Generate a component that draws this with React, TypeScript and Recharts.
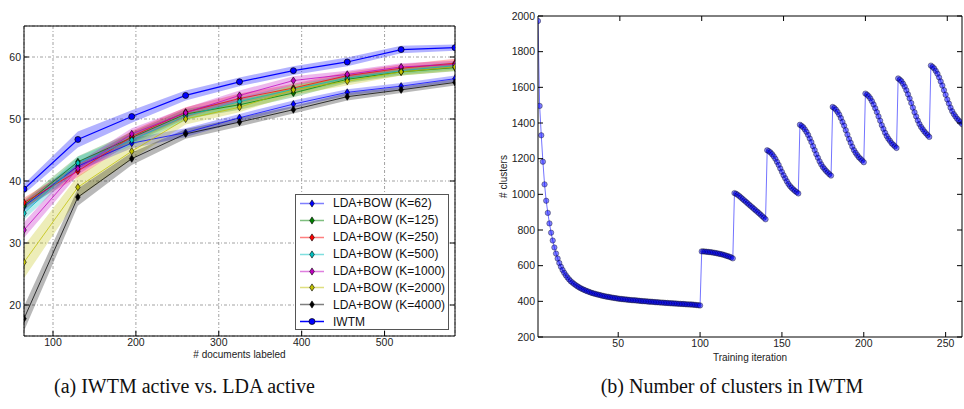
import React from 'react';
import { ComposedChart, LineChart, Line, Area, XAxis, YAxis, CartesianGrid, Legend } from 'recharts';

// ---------- (a) IWTM active vs. LDA active ----------
const docsLabeled = [65, 130, 195, 260, 325, 390, 455, 520, 585];
const iwtmAcc = [38.7, 46.7, 50.4, 53.8, 56.0, 57.8, 59.2, 61.2, 61.5];
const iwtmErr = [0.8, 1.3, 1.0, 0.8, 0.7, 0.7, 0.7, 0.6, 0.5];
const ldaK62 = [35.9, 42.4, 46.1, 47.8, 50.2, 52.4, 54.3, 55.3, 56.5];
const ldaK62Err = [0.8, 0.8, 0.8, 0.7, 0.6, 0.6, 0.5, 0.5, 0.5];
const ldaK125 = [36.1, 43.1, 47.0, 50.8, 52.3, 54.2, 56.4, 57.6, 58.3];
const ldaK125Err = [0.8, 0.9, 0.9, 0.8, 0.8, 0.7, 0.6, 0.6, 0.6];
const ldaK250 = [36.5, 41.6, 47.2, 51.1, 53.3, 55.0, 57.0, 58.2, 59.0];
const ldaK250Err = [0.8, 1.0, 0.9, 0.8, 0.8, 0.7, 0.6, 0.6, 0.7];
const ldaK500 = [34.8, 42.9, 46.6, 50.5, 52.8, 54.8, 56.6, 57.8, 58.6];
const ldaK500Err = [1.0, 1.0, 0.9, 0.8, 0.7, 0.7, 0.6, 0.6, 0.6];
const ldaK1000 = [32.1, 42.0, 47.6, 51.0, 53.8, 56.2, 57.2, 58.4, 58.8];
const ldaK1000Err = [1.25, 1.0, 0.9, 0.8, 0.8, 0.7, 0.6, 0.6, 0.6];
const ldaK2000 = [26.9, 39.0, 44.8, 50.0, 51.9, 54.7, 56.1, 57.6, 58.4];
const ldaK2000Err = [2.6, 1.8, 1.3, 0.9, 0.8, 0.8, 0.7, 0.6, 0.6];
const ldaK4000 = [17.8, 37.4, 43.6, 47.6, 49.5, 51.5, 53.6, 54.7, 55.9];
const ldaK4000Err = [2.0, 1.4, 1.0, 0.8, 0.7, 0.6, 0.6, 0.5, 0.5];

const ldaNames = ['LDA+BOW (K=62)', 'LDA+BOW (K=125)', 'LDA+BOW (K=250)', 'LDA+BOW (K=500)', 'LDA+BOW (K=1000)', 'LDA+BOW (K=2000)', 'LDA+BOW (K=4000)'];
const ldaColors = ['#0000ff', '#008000', '#ff0000', '#00bfbf', '#bf00bf', '#bfbf00', '#000000'];
const ldaValues = [ldaK62, ldaK125, ldaK250, ldaK500, ldaK1000, ldaK2000, ldaK4000];
const ldaErrors = [ldaK62Err, ldaK125Err, ldaK250Err, ldaK500Err, ldaK1000Err, ldaK2000Err, ldaK4000Err];
const iwtmName = 'IWTM';

const leftXTicks = [100, 200, 300, 400, 500];
const leftYTicks = [20, 30, 40, 50, 60];

// ---------- (b) Number of clusters in IWTM ----------
const clustersIter1to100 = [
  1972, 1496, 1331, 1183, 1056, 964, 896, 837, 785, 741,
  702, 668, 640, 615, 594, 576, 560, 546, 534, 523,
  513, 505, 498, 491, 485, 479, 474, 469, 465, 461,
  457, 454, 450, 447, 444, 442, 439, 437, 435, 432,
  430, 428, 426, 425, 423, 421, 420, 418, 417, 415,
  414, 413, 412, 411, 410, 409, 408, 407, 406, 406,
  405, 404, 403, 402, 401, 401, 400, 399, 398, 398,
  397, 396, 395, 395, 394, 393, 393, 392, 391, 391,
  390, 389, 389, 388, 388, 387, 386, 386, 385, 385,
  384, 383, 383, 382, 382, 381, 380, 379, 378, 377,
];
const clustersIter101to120 = [680, 680, 679, 678, 677, 676, 675, 673, 672, 670, 668, 666, 664, 662, 659, 656, 653, 650, 646, 641];
const clustersIter121to140 = [1007, 1003, 997, 990, 982, 974, 966, 958, 950, 942, 934, 926, 918, 910, 902, 894, 886, 877, 869, 860];
const clustersIter141to160 = [1247, 1242, 1235, 1225, 1213, 1199, 1182, 1165, 1145, 1126, 1107, 1090, 1073, 1058, 1046, 1036, 1027, 1019, 1012, 1005];
const clustersIter161to180 = [1390, 1384, 1376, 1364, 1350, 1333, 1313, 1293, 1270, 1248, 1225, 1205, 1185, 1168, 1153, 1142, 1131, 1122, 1113, 1105];
const clustersIter181to200 = [1490, 1484, 1475, 1462, 1447, 1428, 1406, 1385, 1360, 1335, 1310, 1289, 1267, 1248, 1233, 1220, 1208, 1199, 1190, 1180];
const clustersIter201to220 = [1565, 1559, 1550, 1538, 1522, 1504, 1483, 1461, 1437, 1413, 1388, 1367, 1345, 1327, 1312, 1300, 1287, 1278, 1269, 1260];
const clustersIter221to240 = [1650, 1643, 1634, 1620, 1604, 1584, 1561, 1538, 1512, 1486, 1460, 1437, 1414, 1394, 1378, 1365, 1352, 1342, 1332, 1322];
const clustersIter241to260 = [1722, 1715, 1706, 1692, 1676, 1656, 1633, 1610, 1584, 1558, 1532, 1509, 1486, 1466, 1450, 1437, 1424, 1414, 1404, 1394];

const rightXTicks = [50, 100, 150, 200, 250];
const rightYTicks = [200, 400, 600, 800, 1000, 1200, 1400, 1600, 1800, 2000];

const captionA = '(a) IWTM active vs. LDA active';
const captionB = '(b) Number of clusters in IWTM';

// ---------- derived tables ----------
const leftData = docsLabeled.map((x, i) => {
  const row: any = { x, iwtm: iwtmAcc[i], iwtmBand: [iwtmAcc[i] - iwtmErr[i], iwtmAcc[i] + iwtmErr[i]] };
  ldaValues.forEach((vals, s) => {
    row['lda' + s] = vals[i];
    row['lda' + s + 'Band'] = [vals[i] - ldaErrors[s][i], vals[i] + ldaErrors[s][i]];
  });
  return row;
});

const clusterCounts = [
  ...clustersIter1to100, ...clustersIter101to120, ...clustersIter121to140, ...clustersIter141to160,
  ...clustersIter161to180, ...clustersIter181to200, ...clustersIter201to220, ...clustersIter221to240, ...clustersIter241to260,
];
const rightData = clusterCounts.map((n, i) => ({ it: i + 1, n }));

const SANS = '"Liberation Sans", Arial, Helvetica, sans-serif';
const SERIF = '"Liberation Serif", "Times New Roman", serif';
const TICK_FS = 10.5;

const BottomTick = (props: any) => {
  const { x, y, payload } = props;
  return (
    <g>
      <line x1={x} x2={x} y1={y} y2={y - 5} stroke="#000" strokeWidth={1} />
      <text x={x} y={y + 3} dy="0.71em" textAnchor="middle" fontSize={TICK_FS} fontFamily={SANS} fill="#222">{payload.value}</text>
    </g>
  );
};
const LeftTick = (props: any) => {
  const { x, y, payload } = props;
  return (
    <g>
      <line x1={x} x2={x + 5} y1={y} y2={y} stroke="#000" strokeWidth={1} />
      <text x={x - 3} y={y} dy="0.36em" textAnchor="end" fontSize={TICK_FS} fontFamily={SANS} fill="#222">{payload.value}</text>
    </g>
  );
};
const TopTick = (props: any) => {
  const { x, y } = props;
  return <line x1={x} x2={x} y1={y} y2={y + 5} stroke="#000" strokeWidth={1} />;
};
const RightTick = (props: any) => {
  const { x, y } = props;
  return <line x1={x} x2={x - 5} y1={y} y2={y} stroke="#000" strokeWidth={1} />;
};

const diamondPath = (cx: number, cy: number) => `M${cx},${cy - 3.6}L${cx + 2.3},${cy}L${cx},${cy + 3.6}L${cx - 2.3},${cy}Z`;

const makeDiamondDot = (color: string) => (p: any) => {
  if (p.cx == null || p.cy == null) return <g key={p.key ?? p.index} />;
  return <path key={p.key ?? p.index} d={diamondPath(p.cx, p.cy)} fill={color} stroke="#000" strokeWidth={0.6} />;
};
const iwtmDot = (p: any) => {
  if (p.cx == null || p.cy == null) return <g key={p.key ?? p.index} />;
  return <circle key={p.key ?? p.index} cx={p.cx} cy={p.cy} r={3} fill="#0000ff" stroke="#000" strokeWidth={0.7} />;
};
const clusterDot = (p: any) => {
  if (p.cx == null || p.cy == null) return <g key={p.key ?? p.index} />;
  return <circle key={p.key ?? p.index} cx={p.cx} cy={p.cy} r={2.7} fill="#0000ff" fillOpacity={0.5} stroke="#000" strokeOpacity={0.45} strokeWidth={0.8} />;
};

const LegendBox = () => {
  const rows = [
    ...ldaNames.map((name, i) => ({ name, color: ldaColors[i], lineOpacity: 0.5, circle: false })),
    { name: iwtmName, color: '#0000ff', lineOpacity: 1, circle: true },
  ];
  return (
    <div style={{ width: 154, height: 136, boxSizing: 'border-box', border: '1.5px solid #555', background: '#fff' }}>
      {rows.map((r) => (
        <div key={r.name} style={{ height: 16.9, display: 'flex', alignItems: 'center' }}>
          <svg width={37} height={17} style={{ display: 'block' }}>
            <line x1={4} x2={28} y1={8.5} y2={8.5} stroke={r.color} strokeOpacity={r.lineOpacity} strokeWidth={1.5} />
            {r.circle ? (
              <circle cx={16} cy={8.5} r={3} fill={r.color} stroke="#000" strokeWidth={0.7} />
            ) : (
              <path d={diamondPath(16, 8.5)} fill={r.color} stroke="#000" strokeWidth={0.6} />
            )}
          </svg>
          <span style={{ fontFamily: SANS, fontSize: 12, color: '#111', whiteSpace: 'nowrap' }}>{r.name}</span>
        </div>
      ))}
    </div>
  );
};

const ClusterYLabel = (props: any) => {
  const vb = props.viewBox || { x: 0, y: 0, width: 0, height: 0 };
  const cx = vb.x + 23;
  const cy = vb.y + vb.height / 2;
  return (
    <text x={cx} y={cy} transform={`rotate(-90 ${cx} ${cy})`} textAnchor="middle" dy="0.36em" fontSize={10} fontFamily={SANS} fill="#222">
      # clusters
    </text>
  );
};

export default function App() {
  return (
    <div style={{ position: 'absolute', left: 0, top: 0, width: 964, height: 409, background: '#fff', overflow: 'hidden' }}>
      <div style={{ position: 'absolute', left: 0, top: 0 }}>
        <ComposedChart width={470} height={370} data={leftData} margin={{ top: 25, right: 14, bottom: 0, left: 0 }}>
          <CartesianGrid stroke="#8a8a8a" strokeDasharray="3 2 1 2" strokeWidth={0.8} />
          <XAxis dataKey="x" type="number" domain={[65, 585]} ticks={leftXTicks} height={34} tickSize={0} tickMargin={0}
            tickLine={false} axisLine={{ stroke: '#000' }} tick={BottomTick} interval={0} allowDataOverflow
            label={{ value: '# documents labeled', position: 'insideBottom', offset: 12, fontSize: 10, fontFamily: SANS, fill: '#222' }} />
          <XAxis xAxisId="top" orientation="top" type="number" domain={[65, 585]} ticks={leftXTicks} height={1} tickSize={0} tickMargin={0}
            tickLine={false} axisLine={{ stroke: '#000' }} tick={TopTick} interval={0} allowDataOverflow />
          <YAxis type="number" domain={[15, 65]} ticks={leftYTicks} width={24} tickSize={0} tickMargin={0}
            tickLine={false} axisLine={{ stroke: '#000' }} tick={LeftTick} interval={0} allowDataOverflow />
          <YAxis yAxisId="right" orientation="right" type="number" domain={[15, 65]} ticks={leftYTicks} width={1} tickSize={0} tickMargin={0}
            tickLine={false} axisLine={{ stroke: '#000' }} tick={RightTick} interval={0} allowDataOverflow />
          {ldaColors.map((c, s) => (
            <Area key={'band' + s} type="linear" dataKey={'lda' + s + 'Band'} stroke="none" fill={c} fillOpacity={0.28}
              isAnimationActive={false} activeDot={false} dot={false} />
          ))}
          <Area type="linear" dataKey="iwtmBand" stroke="none" fill="#0000ff" fillOpacity={0.3} isAnimationActive={false} activeDot={false} dot={false} />
          {ldaColors.map((c, s) => (
            <Line key={'line' + s} type="linear" dataKey={'lda' + s} stroke={c} strokeOpacity={0.75} strokeWidth={1}
              dot={makeDiamondDot(c)} activeDot={false} isAnimationActive={false} />
          ))}
          <Line type="linear" dataKey="iwtm" stroke="#0000ff" strokeWidth={1.2} dot={iwtmDot} activeDot={false} isAnimationActive={false} />
          <Legend layout="vertical" align="center" verticalAlign="middle" content={() => <LegendBox />}
            wrapperStyle={{ position: 'absolute', left: 295, top: 194, width: 154, height: 136 }} />
        </ComposedChart>
      </div>
      <div style={{ position: 'absolute', left: 480, top: 0 }}>
        <LineChart width={484} height={370} data={rightData} margin={{ top: 15, right: 1, bottom: 0, left: 0 }}>
          <XAxis dataKey="it" type="number" domain={[1, 260]} ticks={rightXTicks} height={33} tickSize={0} tickMargin={0}
            tickLine={false} axisLine={{ stroke: '#000' }} tick={BottomTick} interval={0} allowDataOverflow
            label={{ value: 'Training iteration', position: 'insideBottom', offset: 9, fontSize: 10, fontFamily: SANS, fill: '#222' }} />
          <XAxis xAxisId="top" orientation="top" type="number" domain={[1, 260]} ticks={rightXTicks} height={1} tickSize={0} tickMargin={0}
            tickLine={false} axisLine={{ stroke: '#000' }} tick={TopTick} interval={0} allowDataOverflow />
          <YAxis type="number" domain={[200, 2000]} ticks={rightYTicks} width={58} tickSize={0} tickMargin={0}
            tickLine={false} axisLine={{ stroke: '#000' }} tick={LeftTick} interval={0} allowDataOverflow
            label={<ClusterYLabel />} />
          <YAxis yAxisId="right" orientation="right" type="number" domain={[200, 2000]} ticks={rightYTicks} width={1} tickSize={0} tickMargin={0}
            tickLine={false} axisLine={{ stroke: '#000' }} tick={RightTick} interval={0} allowDataOverflow />
          <Line type="linear" dataKey="n" stroke="#0000ff" strokeOpacity={0.55} strokeWidth={1} dot={clusterDot} activeDot={false} isAnimationActive={false} />
        </LineChart>
      </div>
      <div style={{ position: 'absolute', left: 0, width: 369, top: 376, textAlign: 'center', fontFamily: SERIF, fontSize: 20, lineHeight: '20px', color: '#111', whiteSpace: 'nowrap' }}>
        {captionA}
      </div>
      <div style={{ position: 'absolute', left: 532, width: 400, top: 376, textAlign: 'center', fontFamily: SERIF, fontSize: 20, lineHeight: '20px', color: '#111', whiteSpace: 'nowrap' }}>
        {captionB}
      </div>
    </div>
  );
}
